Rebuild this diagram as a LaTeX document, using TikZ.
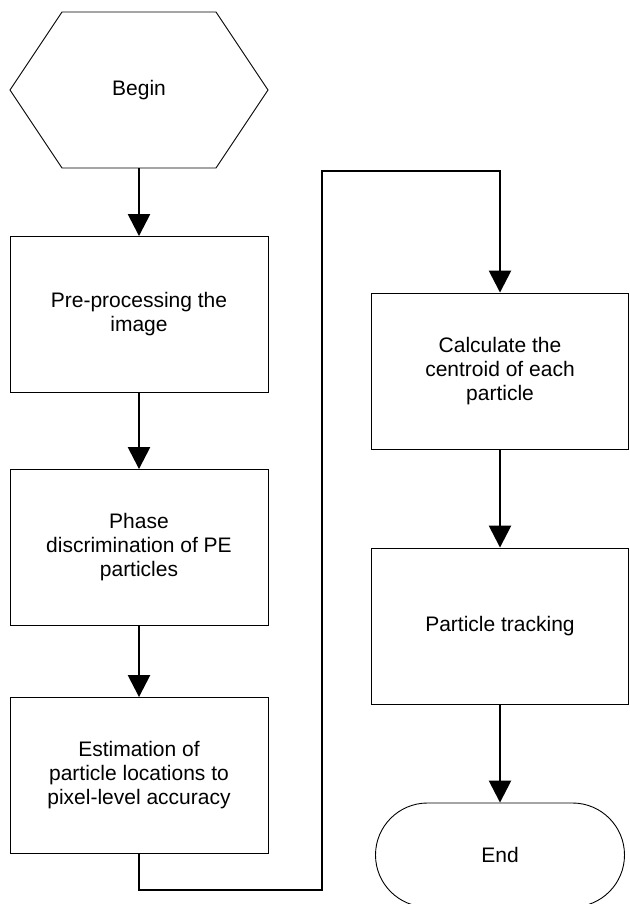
\documentclass[tikz,border=0pt]{standalone}
\usepackage{fontspec}
\setmainfont{Liberation Sans}
\usetikzlibrary{arrows.meta,shapes.misc,calc}

\begin{document}
\begin{tikzpicture}[x=1pt,y=-1pt,
        box/.style={draw,line width=0.9pt,minimum width=258pt,minimum height=156pt,
            align=center,inner sep=4pt,font=\fontsize{21}{24}\selectfont},
        flow/.style={line width=2.6pt,-{Triangle[width=22pt,length=22pt]}}]
\useasboundingbox (0,0) rectangle (629,904);

\node[box,draw=none,outer sep=0pt] (begin) at (139,90) {Begin};
\draw[line width=0.9pt] (begin.west) -- ($(begin.north west)+(52,0)$)
    -- ($(begin.north east)+(-52,0)$) -- (begin.east)
    -- ($(begin.south east)+(-52,0)$) -- ($(begin.south west)+(52,0)$) -- cycle;

\node[box] (pre) at (139,314.5) {Pre-processing the\\image};
\node[box] (phase) at (139,547.5) {Phase\\discrimination of PE\\particles};
\node[box] (est) at (139,775.5) {Estimation of\\particle locations to\\pixel-level accuracy};

\node[box,minimum width=257pt] (centroid) at (500,371) {Calculate the\\centroid of each\\particle};
\node[box,minimum width=257pt] (track) at (500,626) {Particle tracking};
\node[box,rounded rectangle,minimum width=257pt,minimum height=104pt] (finish) at (500,855) {End};

\draw[flow] (begin.south) -- (pre.north);
\draw[flow] (pre) -- (phase);
\draw[flow] (phase) -- (est);

\coordinate (turn) at (322,171);
\draw[flow] (est.south) -- ++(0,36) -| (turn) -| (centroid.north);

\draw[flow] (centroid) -- (track);
\draw[flow] (track) -- (finish);

\end{tikzpicture}
\end{document}
